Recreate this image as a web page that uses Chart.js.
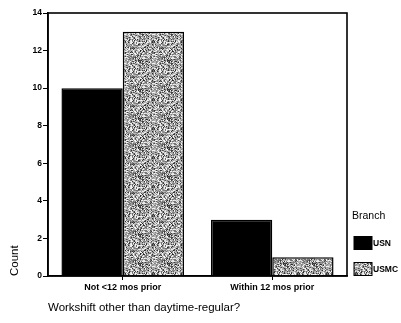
<!DOCTYPE html>
<html><head><meta charset="utf-8">
<script src="https://cdn.jsdelivr.net/npm/chart.js@4"></script>
<style>html,body{margin:0;padding:0;background:#fff}#wrap{width:401px;height:323px}</style>
</head><body><div id="wrap"><canvas id="c" width="401" height="323"></canvas></div>
<script>
const categories = ['Not <12 mos prior', 'Within 12 mos prior'];
const seriesNames = ['USN', 'USMC'];
const usnCounts = [10, 3];
const usmcCounts = [13, 1];
const yTicks = [0, 2, 4, 6, 8, 10, 12, 14];
const xAxisTitle = 'Workshift other than daytime-regular?';
const yAxisTitle = 'Count';
const legendTitle = 'Branch';

const FONT = "'Liberation Sans', Arial, sans-serif";
const canvas = document.getElementById('c');
const ctx0 = canvas.getContext('2d');

// deterministic fine stipple texture (style only)
function makeStipple(ctx) {
  const n = 29;
  const c = document.createElement('canvas'); c.width = n; c.height = n;
  const g = c.getContext('2d');
  const img = g.createImageData(n, n);
  for (let y = 0; y < n; y++) for (let x = 0; x < n; x++) {
    let h = (x * 374761393 + y * 668265263) | 0;
    h = Math.imul(h ^ (h >>> 13), 1274126177);
    h = (h ^ (h >>> 16)) >>> 0;
    const r = h % 100;
    let v;
    if (r < 22) v = 225 + (h >>> 8) % 25;
    else if (r < 58) v = 160 + (h >>> 8) % 40;
    else if (r < 85) v = 105 + (h >>> 8) % 40;
    else v = 35 + (h >>> 8) % 45;
    const i = (y * n + x) * 4;
    img.data[i] = img.data[i + 1] = img.data[i + 2] = v; img.data[i + 3] = 255;
  }
  g.putImageData(img, 0, 0);
  return ctx.createPattern(c, 'repeat');
}
const stipple = makeStipple(ctx0);

const framePlugin = {
  id: 'frame',
  afterDraw(chart) {
    const {ctx, chartArea: a} = chart;
    ctx.save();
    ctx.strokeStyle = '#000';
    ctx.lineWidth = 1.6;
    ctx.strokeRect(a.left, a.top, a.right - a.left, a.bottom - a.top);
    ctx.restore();
  }
};

const legendPlugin = {
  id: 'customLegend',
  afterDraw(chart) {
    const ctx = chart.ctx;
    ctx.save();
    ctx.fillStyle = '#000';
    ctx.textBaseline = 'middle';
    ctx.textAlign = 'left';
    ctx.font = '10.5px ' + FONT;
    ctx.fillText(legendTitle, 352, 216);
    const rows = [236.5, 262.5];
    chart.data.datasets.forEach((ds, i) => {
      const y = rows[i];
      ctx.fillStyle = ds.backgroundColor;
      ctx.fillRect(354, y, 18, 13);
      ctx.strokeStyle = '#000';
      ctx.lineWidth = 1;
      ctx.strokeRect(354, y, 18, 13);
      ctx.fillStyle = '#000';
      ctx.font = 'bold 8.5px ' + FONT;
      ctx.fillText(ds.label, 373, y + 7);
    });
    ctx.restore();
  }
};

new Chart(canvas, {
  type: 'bar',
  data: {
    labels: categories,
    datasets: [
      {label: seriesNames[0], data: usnCounts, backgroundColor: '#000', borderColor: '#000', borderWidth: 1.5},
      {label: seriesNames[1], data: usmcCounts, backgroundColor: stipple, borderColor: '#000', borderWidth: 1.5}
    ]
  },
  options: {
    responsive: false,
    devicePixelRatio: 1,
    animation: false,
    layout: {padding: {left: 4, top: 13, right: 54, bottom: 0}},
    plugins: {legend: {display: false}, tooltip: {enabled: false}},
    datasets: {bar: {categoryPercentage: 0.82, barPercentage: 1.0}},
    scales: {
      x: {
        grid: {display: true, drawOnChartArea: false, drawTicks: true, tickLength: 4, offset: false, color: '#000', lineWidth: 1},
        border: {display: true, color: '#000', width: 1.6},
        ticks: {color: '#000', font: {family: FONT, size: 9, weight: 'bold'}, padding: 2, maxRotation: 0},
        title: {display: true, text: xAxisTitle, align: 'start', color: '#000', font: {family: FONT, size: 11.5}, padding: {top: 0, bottom: 8}},
        afterFit(scale) { scale.height = 47; }
      },
      y: {
        min: 0, max: 14,
        afterBuildTicks(scale) { scale.ticks = yTicks.map(v => ({value: v})); },
        grid: {display: true, drawOnChartArea: false, drawTicks: true, tickLength: 5, color: '#000', lineWidth: 1},
        border: {display: true, color: '#000', width: 1.6},
        ticks: {color: '#000', font: {family: FONT, size: 8.5, weight: 'bold'}, padding: 1},
        title: {display: true, text: yAxisTitle, align: 'start', color: '#000', font: {family: FONT, size: 11.5}, padding: {top: 4, bottom: 0}},
        afterFit(scale) { scale.width = 44; }
      }
    }
  },
  plugins: [framePlugin, legendPlugin]
});
</script>
</body></html>
